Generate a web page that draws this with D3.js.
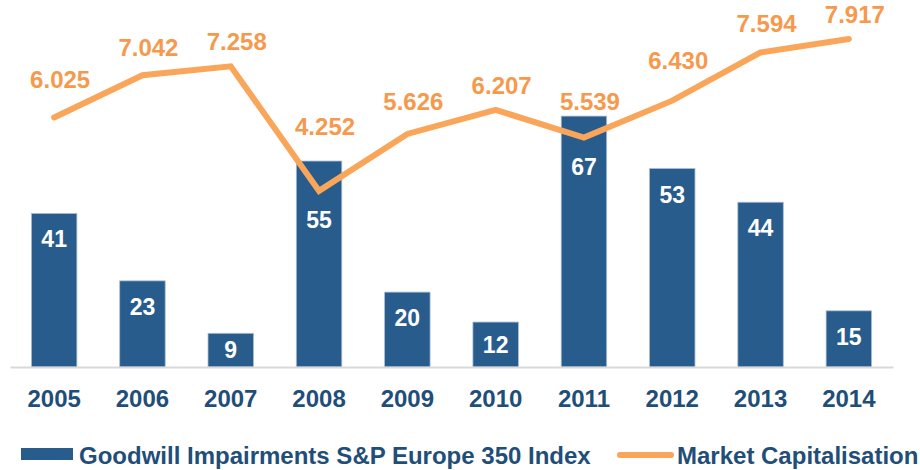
<!DOCTYPE html>
<html>
<head>
<meta charset="utf-8">
<script src="https://cdn.jsdelivr.net/npm/d3@7"></script>
<style>
  body { margin: 0; background: #fff; }
  text { font-family: "Liberation Sans", Arial, sans-serif; font-weight: bold; }
</style>
</head>
<body>
<div id="chart"></div>
<script>
var years = ["2005", "2006", "2007", "2008", "2009", "2010", "2011", "2012", "2013", "2014"];
var impairments = [41, 23, 9, 55, 20, 12, 67, 53, 44, 15];
var marketCap = [6.025, 7.042, 7.258, 4.252, 5.626, 6.207, 5.539, 6.430, 7.594, 7.917];
var capLabels = ["6.025", "7.042", "7.258", "4.252", "5.626", "6.207", "5.539", "6.430", "7.594", "7.917"];
var seriesNames = ["Goodwill Impairments S&P Europe 350 Index", "Market Capitalisation"];

var width = 920, height = 470;
var baseY = 367;
var barColor = "#285c8d", lineColor = "#f9a65a", labelOrange = "#f7994c", textBlue = "#1f4e79";

var data = years.map((y, i) => ({ year: y, bar: impairments[i], cap: marketCap[i], capText: capLabels[i] }));

var svg = d3.select("#chart")
  .append("svg")
    .attr("width", width)
    .attr("height", height);

var x = d3.scaleBand()
  .domain(years)
  .range([10, 893])
  .paddingInner(0.485)
  .paddingOuter(0.2425);

var y = d3.scaleLinear()
  .domain([0, 98])
  .range([baseY, 0]);

var y2 = d3.scaleLinear()
  .domain([0, 8.86])
  .range([baseY, 0]);

// bars
svg.selectAll("rect.bar")
  .data(data)
  .join("rect")
    .attr("class", "bar")
    .attr("x", d => x(d.year))
    .attr("y", d => y(d.bar))
    .attr("width", x.bandwidth())
    .attr("height", d => baseY - y(d.bar))
    .attr("fill", barColor)
    .attr("stroke", "#a9bdd4")
    .attr("stroke-width", 0.8);

// x axis (just the grey baseline + year labels)
var xAxis = svg.append("g")
  .attr("transform", `translate(0, ${baseY})`)
  .call(d3.axisBottom(x).tickSize(0).tickPadding(23));
xAxis.select(".domain").attr("stroke", "#d9d9d9").attr("stroke-width", 2);
xAxis.selectAll("text")
  .attr("fill", textBlue)
  .style("font-size", "24px")
  .style("font-family", "Liberation Sans, Arial, sans-serif")
  .style("font-weight", "bold");

var cx = d => x(d.year) + x.bandwidth() / 2;

// line position at any x, used to keep labels clear of the line
function lineYAt(px) {
  for (var i = 0; i < data.length - 1; i++) {
    var x0 = cx(data[i]), x1 = cx(data[i + 1]);
    if (px >= x0 && px <= x1) {
      var t = (px - x0) / (x1 - x0);
      return y2(data[i].cap) + t * (y2(data[i + 1].cap) - y2(data[i].cap));
    }
  }
  return null;
}

// bar value labels
svg.selectAll("text.barlab")
  .data(data)
  .join("text")
    .attr("class", "barlab")
    .attr("x", d => cx(d))
    .attr("y", d => {
      var top = y(d.bar);
      var ly = lineYAt(cx(d));
      var clear = Math.max(top, ly + 3) + 34;
      return Math.min(clear, top + (baseY - top) / 2 + 8);
    })
    .attr("text-anchor", "middle")
    .attr("fill", "#fff")
    .style("font-size", "23px")
    .text(d => d.bar);

// market cap line
var line = d3.line()
  .x(d => cx(d))
  .y(d => y2(d.cap));

svg.append("path")
  .datum(data)
  .attr("fill", "none")
  .attr("stroke", lineColor)
  .attr("stroke-width", 6)
  .attr("stroke-linejoin", "miter")
  .attr("stroke-linecap", "round")
  .attr("d", line);

// line value labels
svg.selectAll("text.caplab")
  .data(data)
  .join("text")
    .attr("class", "caplab")
    .attr("x", d => cx(d) + 6)
    .attr("y", d => {
      var px = cx(d);
      var cands = [y2(d.cap), lineYAt(px - 28), lineYAt(px + 28)].filter(v => v !== null);
      return d3.min(cands) - 16;
    })
    .attr("text-anchor", "middle")
    .attr("fill", labelOrange)
    .style("font-size", "24px")
    .text(d => d.capText);

// legend
var legend = svg.append("g");
legend.append("rect")
  .attr("x", 21).attr("y", 448)
  .attr("width", 52).attr("height", 12)
  .attr("fill", barColor);
legend.append("text")
  .attr("x", 79).attr("y", 464)
  .attr("fill", textBlue)
  .style("font-size", "24px")
  .text(seriesNames[0]);
legend.append("line")
  .attr("x1", 620).attr("x2", 671)
  .attr("y1", 455).attr("y2", 455)
  .attr("stroke", lineColor)
  .attr("stroke-width", 6)
  .attr("stroke-linecap", "round");
legend.append("text")
  .attr("x", 677).attr("y", 464)
  .attr("fill", textBlue)
  .style("font-size", "24px")
  .text(seriesNames[1]);
</script>
</body>
</html>
